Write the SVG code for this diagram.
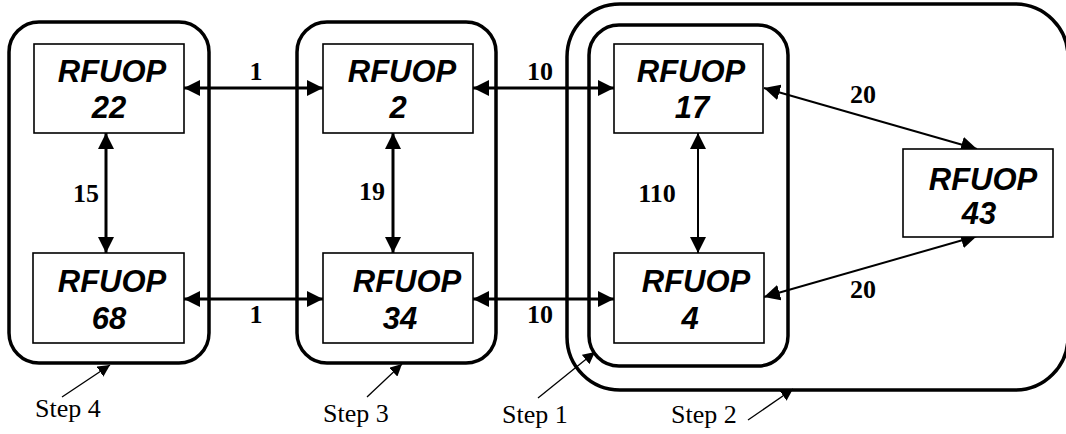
<svg xmlns="http://www.w3.org/2000/svg" width="1066" height="434" viewBox="0 0 1066 434">
<style>
.grp{fill:none;stroke:#000;stroke-width:3.5}
.box{fill:#fff;stroke:#000;stroke-width:1.6}
.nt{font-family:"Liberation Sans",Arial,sans-serif;font-weight:bold;font-style:italic;font-size:31px;text-anchor:middle;fill:#000}
.lbl{font-family:"Liberation Serif","Times New Roman",serif;font-weight:bold;font-size:26px;text-anchor:middle;fill:#000}
.step{font-family:"Liberation Serif","Times New Roman",serif;font-size:26px;fill:#000}
.c{fill:none;stroke:#000;stroke-width:3;marker-start:url(#ah);marker-end:url(#ah)}
.ct{fill:none;stroke:#000;stroke-width:2;marker-start:url(#ah);marker-end:url(#ah)}
.ld{fill:none;stroke:#000;stroke-width:1.3;marker-end:url(#sh)}
</style>
<defs>
<marker id="ah" markerUnits="userSpaceOnUse" markerWidth="16" markerHeight="16" refX="16" refY="8" orient="auto-start-reverse"><path d="M0,0 L16,8 L0,16 z" fill="#000"/></marker>
<marker id="sh" markerUnits="userSpaceOnUse" markerWidth="12" markerHeight="12" refX="12" refY="6" orient="auto"><path d="M0,0 L12,6 L0,12 z" fill="#000"/></marker>
</defs>
<g id="groups">
<rect id="step2" class="grp" x="567" y="4" width="501" height="386" rx="53"/>
<rect id="step4" class="grp" x="9" y="22" width="200" height="341" rx="30"/>
<rect id="step3" class="grp" x="297" y="22" width="199" height="341" rx="30"/>
<rect id="step1" class="grp" x="589" y="25" width="199" height="341" rx="30"/>
</g>
<g id="connectors">
<line class="c" x1="184" y1="88" x2="323" y2="88"/>
<line class="c" x1="184" y1="299" x2="323" y2="299"/>
<line class="c" x1="473" y1="88" x2="614" y2="88"/>
<line class="c" x1="473" y1="299" x2="614" y2="299"/>
<line class="c" x1="106" y1="133" x2="106" y2="253"/>
<line class="c" x1="393" y1="133" x2="393" y2="253"/>
<line class="ct" x1="698" y1="133" x2="698" y2="253"/>
<line class="ct" x1="764" y1="88" x2="977" y2="149"/>
<line class="ct" x1="764" y1="297" x2="977" y2="236"/>
<line class="ld" x1="62" y1="397" x2="110" y2="365"/>
<line class="ld" x1="367" y1="397" x2="402" y2="364"/>
<line class="ld" x1="538" y1="398" x2="595" y2="352"/>
<line class="ld" x1="748" y1="420" x2="793" y2="389"/>
</g>
<g id="labels">
<text class="lbl" x="256" y="80">1</text>
<text class="lbl" x="256" y="323">1</text>
<text class="lbl" x="540" y="80">10</text>
<text class="lbl" x="540" y="323">10</text>
<text class="lbl" x="86" y="202">15</text>
<text class="lbl" x="372" y="200">19</text>
<text class="lbl" x="657" y="202">110</text>
<text class="lbl" x="863" y="103">20</text>
<text class="lbl" x="863" y="298">20</text>
<text class="step" x="35" y="417">Step 4</text>
<text class="step" x="323" y="422">Step 3</text>
<text class="step" x="502" y="423">Step 1</text>
<text class="step" x="671" y="423">Step 2</text>
</g>
<g id="n22"><rect class="box" x="34" y="44" width="150" height="89"/><text class="nt" x="112" y="82">RFUOP</text><text class="nt" x="109" y="118">22</text></g>
<g id="n68"><rect class="box" x="33" y="253" width="151" height="90"/><text class="nt" x="112" y="292">RFUOP</text><text class="nt" x="109" y="329">68</text></g>
<g id="n2"><rect class="box" x="323" y="44" width="150" height="89"/><text class="nt" x="402" y="82">RFUOP</text><text class="nt" x="398" y="118">2</text></g>
<g id="n34"><rect class="box" x="323" y="253" width="150" height="90"/><text class="nt" x="407" y="292">RFUOP</text><text class="nt" x="400" y="329">34</text></g>
<g id="n17"><rect class="box" x="614" y="44" width="149" height="89"/><text class="nt" x="691" y="82">RFUOP</text><text class="nt" x="692" y="118">17</text></g>
<g id="n4"><rect class="box" x="614" y="253" width="150" height="90"/><text class="nt" x="696" y="292">RFUOP</text><text class="nt" x="690" y="329">4</text></g>
<g id="n43"><rect class="box" x="903" y="149" width="150" height="88"/><text class="nt" x="983" y="190">RFUOP</text><text class="nt" x="979" y="224">43</text></g>
</svg>
